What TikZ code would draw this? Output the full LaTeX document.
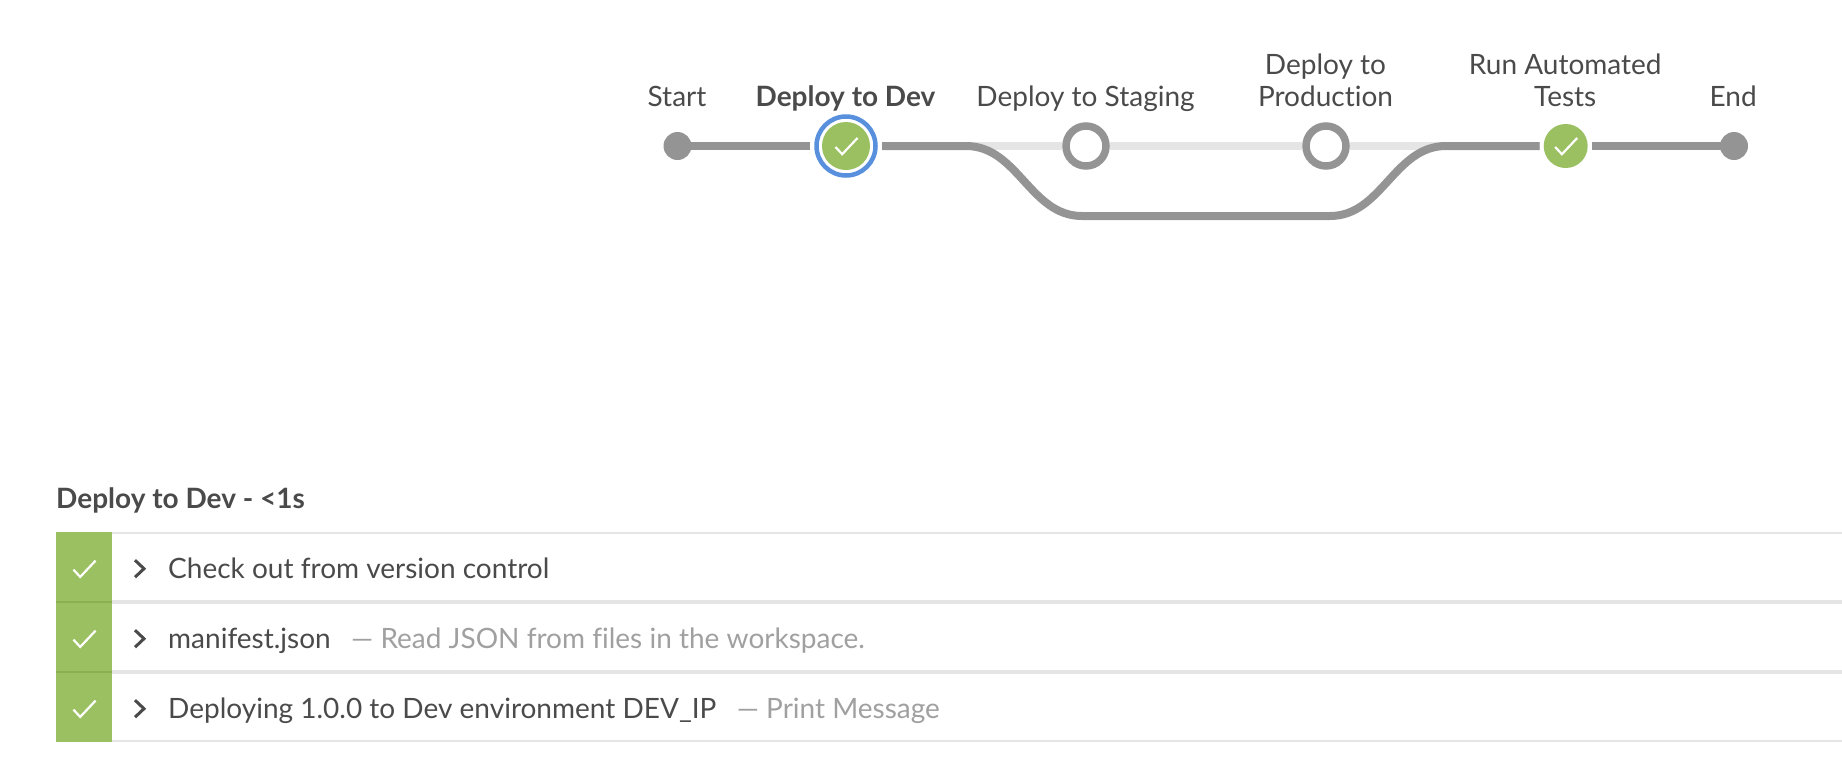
\documentclass[tikz,border=0pt]{standalone}
\usepackage{fontspec}
\setmainfont[Ligatures=NoCommon]{Lato}
\usetikzlibrary{positioning}
\definecolor{passGreen}{RGB}{155,192,98}
\definecolor{passEdge}{RGB}{138,176,84}
\definecolor{focusBlue}{RGB}{88,144,222}
\definecolor{pipeGray}{RGB}{148,148,148}
\definecolor{idleGray}{RGB}{229,229,229}
\definecolor{inkGray}{RGB}{74,74,74}
\definecolor{hintGray}{RGB}{160,160,160}
\tikzstyle{pipeView} = [x = 1pt, y = -1pt]
\tikzstyle{stageLabel} = [font=\fontsize{28}{32}\selectfont, color=inkGray, anchor=base, align=center, inner sep=0]
\tikzstyle{stageDot} = [circle, fill=pipeGray, minimum size=28pt, inner sep=0, outer sep=0]
\tikzstyle{stageOpen} = [circle, draw=pipeGray, line width=7.5pt, fill=white, minimum size=40pt, inner sep=0, outer sep=4pt]
\tikzstyle{stageDone} = [circle, fill=passGreen, minimum size=44pt, inner sep=0, outer sep=4pt]
\tikzstyle{stageFocus} = [circle, draw=focusBlue, line width=4.5pt, fill=white, minimum size=59pt, inner sep=0, outer sep=6.5pt]
\tikzstyle{pipeLine} = [color=pipeGray, line width=8pt]
\tikzstyle{idleLine} = [color=idleGray, line width=8pt]
\tikzstyle{checkLine} = [color=white, line width=2.2pt]
\tikzstyle{chevronLine} = [color=inkGray, line width=3pt]
\tikzstyle{rowCell} = [rectangle, fill=passGreen, minimum width=56pt, minimum height=70pt, inner sep=0, outer sep=0]
\tikzstyle{rowText} = [font=\fontsize{28}{34}\selectfont, color=inkGray, anchor=base west, inner sep=0]
\tikzstyle{rowHint} = [font=\fontsize{28}{34}\selectfont, color=hintGray, inner sep=0, node distance=20pt]
\newcommand{\checkMark}[1]{\draw [checkLine, shift={(#1)}] (-10.5,1) -- (-3.8,8.2) -- (11.5,-8);}
\newcommand{\rowLine}[2]{\draw [color=idleGray, line width=#2] (112,#1) -- (1842,#1);}
\begin{document}
\begin{tikzpicture}[pipeView]
  \useasboundingbox (0,0) rectangle (1842,782);
  % stages
  \node [stageDot] (startStage) at (677.5,146) {};
  \node [stageFocus] (devStage) at (846,146) {};
  \node [stageDone, minimum size=48pt] (devCore) at (846,146) {};
  \node [stageOpen] (stagingStage) at (1086,146) {};
  \node [stageOpen] (prodStage) at (1326,146) {};
  \node [stageDone] (runStage) at (1565.7,146) {};
  \node [stageDot] (endStage) at (1734,146) {};
  \checkMark{devCore}
  \checkMark{runStage}
  % labels
  \node [stageLabel] (startLabel) at (677,106) {Start};
  \node [stageLabel, font=\fontsize{28}{32}\selectfont\bfseries] (devLabel) at (845.5,106) {Deploy to Dev};
  \node [stageLabel] (stagingLabel) at (1085.5,106) {Deploy to Staging};
  \node [stageLabel] (prodLabel) at (1325.5,106) {Deploy to\\Production};
  \node [stageLabel] (runLabel) at (1565.2,106) {Run Automated\\Tests};
  \node [stageLabel] (endLabel) at (1733.2,106) {End};
  % connectors
  \coordinate (branchOut) at (966,146);
  \coordinate (lowOut) at (1082,216);
  \coordinate (lowIn) at (1330,216);
  \coordinate (branchIn) at (1446,146);
  \draw [idleLine] (devStage) -- (stagingStage);
  \draw [idleLine] (stagingStage) -- (prodStage);
  \draw [idleLine] (prodStage) -- (runStage);
  \draw [pipeLine] (startStage.center) -- (devStage);
  \draw [pipeLine] (devStage) -- (branchOut) .. controls (1018,146) and (1030,216) .. (lowOut) -- (lowIn) .. controls (1382,216) and (1394,146) .. (branchIn) -- (runStage);
  \draw [pipeLine] (runStage) -- (endStage.center);
  % step list
  \node [rowText, font=\fontsize{28}{34}\selectfont\bfseries] (listTitle) at (56,508) {Deploy to Dev - <1s};
  \rowLine{533}{2pt}
  \rowLine{602}{4pt}
  \rowLine{672}{4pt}
  \rowLine{741}{2pt}
  \foreach \row/\rowY in {One/567, Two/637, Three/707} {
    \node [rowCell] (cell\row) at (84,\rowY) {};
  }
  \draw [color=passEdge, line width=1.5pt] (cellOne.south west) -- (cellOne.south east);
  \draw [color=passEdge, line width=1.5pt] (cellTwo.south west) -- (cellTwo.south east);
  \foreach \row/\rowY in {One/568.7, Two/638.7, Three/708.7} {
    \coordinate (mark\row) at (84,\rowY);
    \checkMark{mark\row}
    \draw [chevronLine, shift={(mark\row)}] (51,-8.5) -- (60,0) -- (51,8.5);
  }
  \node [rowText] (checkoutText) at (168,578.5) {Check out from version control};
  \node [rowText] (manifestText) at (168,648.5) {manifest.json};
  \node [rowHint, base right=of manifestText] (manifestHint) {— Read JSON from files in the workspace.};
  \node [rowText] (deployText) at (168,718.5) {Deploying 1.0.0 to Dev environment DEV\_IP};
  \node [rowHint, base right=of deployText] (deployHint) {— Print Message};
\end{tikzpicture}
\end{document}
